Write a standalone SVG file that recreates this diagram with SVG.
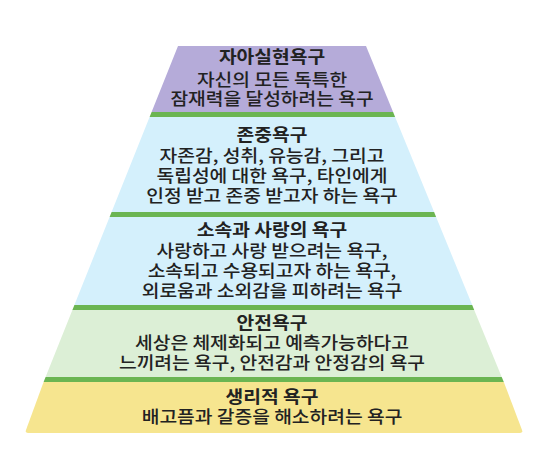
<svg xmlns="http://www.w3.org/2000/svg" width="550" height="474" viewBox="0 0 550 474">
<style>
  .t { font-family: "Noto Sans CJK KR", "Noto Sans", sans-serif; font-size: 17.5px; fill: #222; text-anchor: middle; font-weight: 500; }
  .h { font-weight: bold; }
  .band { fill: #6bb552; }
</style>
<rect width="550" height="474" fill="#ffffff"/>
<g id="self-actualization">
  <polygon points="178,46 366,46 393.1,112 151.6,112" fill="#b5abd9"/>
  <polygon class="band" points="151.6,112 393.1,112 395.1,117 149.6,117"/>
  <text class="t" transform="translate(272 63) scale(1.1 1)"><tspan class="h" x="0" y="0">자아실현욕구</tspan><tspan x="0" y="23">자신의 모든 독특한</tspan><tspan x="0" y="42">잠재력을 달성하려는 욕구</tspan></text>
</g>
<g id="esteem">
  <polygon points="149.6,117 395.1,117 434.1,212 111.6,212" fill="#d4f0fc"/>
  <polygon class="band" points="111.6,212 434.1,212 436.1,217 109.6,217"/>
  <text class="t" transform="translate(272 141) scale(1.1 1)"><tspan class="h" x="0" y="0">존중욕구</tspan><tspan x="0" y="21">자존감, 성취, 유능감, 그리고</tspan><tspan x="0" y="41">독립성에 대한 욕구, 타인에게</tspan><tspan x="0" y="61">인정 받고 존중 받고자 하는 욕구</tspan></text>
</g>
<g id="belonging">
  <polygon points="109.6,217 436.1,217 472.2,305 74.4,305" fill="#d4f0fc"/>
  <polygon class="band" points="74.4,305 472.2,305 474.2,310 72.4,310"/>
  <text class="t" transform="translate(272 236) scale(1.1 1)"><tspan class="h" x="0" y="0">소속과 사랑의 욕구</tspan><tspan x="0" y="21">사랑하고 사랑 받으려는 욕구,</tspan><tspan x="0" y="41">소속되고 수용되고자 하는 욕구,</tspan><tspan x="0" y="61">외로움과 소외감을 피하려는 욕구</tspan></text>
</g>
<g id="safety">
  <polygon points="72.4,310 474.2,310 501.7,377 45.6,377" fill="#dcefd6"/>
  <polygon class="band" points="45.6,377 501.7,377 503.8,382 43.6,382"/>
  <text class="t" transform="translate(272 329) scale(1.1 1)"><tspan class="h" x="0" y="0">안전욕구</tspan><tspan x="0" y="20">세상은 체제화되고 예측가능하다고</tspan><tspan x="0" y="40">느끼려는 욕구, 안전감과 안정감의 욕구</tspan></text>
</g>
<g id="physiological">
  <path d="M43.6,382 L503.8,382 L522,430 Q523,433 520,433 L28,433 Q25,433 26,430 Z" fill="#f6e58f"/>
  <text class="t" transform="translate(272 403) scale(1.1 1)"><tspan class="h" x="0" y="0">생리적 욕구</tspan><tspan x="0" y="20">배고픔과 갈증을 해소하려는 욕구</tspan></text>
</g>
<g id="connectors"></g>
</svg>
